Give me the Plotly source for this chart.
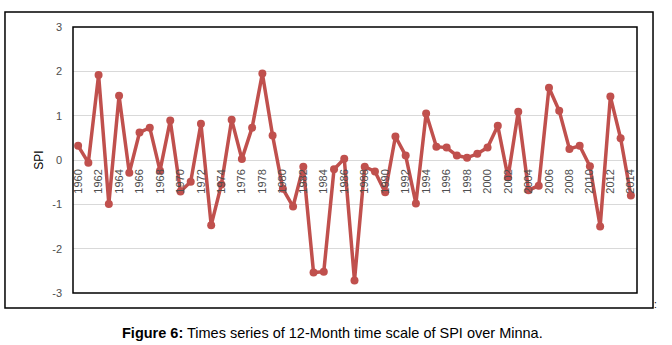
import plotly.graph_objects as go

# SPI values, 12-month time scale, Minna
years = list(range(1960, 2015))
spi = [0.32, -0.06, 1.92, -0.99, 1.45, -0.29, 0.62, 0.73, -0.24, 0.89,
       -0.71, -0.49, 0.82, -1.47, -0.55, 0.91, 0.02, 0.73, 1.95, 0.55,
       -0.65, -1.05, -0.15, -2.54, -2.52, -0.21, 0.03, -2.72, -0.15, -0.26,
       -0.73, 0.53, 0.10, -0.98, 1.05, 0.30, 0.28, 0.10, 0.05, 0.14,
       0.28, 0.77, -0.39, 1.09, -0.68, -0.58, 1.63, 1.11, 0.25, 0.32,
       -0.14, -1.50, 1.43, 0.49, -0.80]
year_ticks = list(range(1960, 2015, 2))
spi_ticks = [-3, -2, -1, 0, 1, 2, 3]
spi_labels = ["-3", "-2", "-1", "0", "1", "2", "3"]

red = "#C0504D"

fig = go.Figure()
fig.add_trace(go.Scatter(x=years, y=spi, mode="lines+markers",
                         line=dict(color=red, width=3.5),
                         marker=dict(color=red, size=8, symbol="circle"),
                         showlegend=False))

fig.update_layout(
    width=672, height=345,
    margin=dict(l=73, r=35, t=27, b=52, autoexpand=False),
    paper_bgcolor="white", plot_bgcolor="white",
    font=dict(family="Liberation Sans", size=11, color="#4d4d4d"),
    xaxis=dict(range=[1959.5, 2014.6], tickvals=year_ticks,
               ticktext=[str(y) for y in year_ticks], tickangle=-90,
               anchor="free", position=0.5, showgrid=False, zeroline=False,
               showline=False, ticks="", ticklabelstandoff=6,
               automargin=False),
    yaxis=dict(range=[-3, 3], tickvals=spi_ticks, ticktext=spi_labels,
               showgrid=True, gridcolor="#D9D9D9", gridwidth=1,
               zeroline=False, ticks="", ticklabelstandoff=10,
               automargin=False,
               title=dict(text="SPI", standoff=6,
                          font=dict(size=12, color="black"))),
)

# inner plot border and outer chart border
fig.add_shape(type="rect", xref="paper", yref="paper", x0=0, x1=1, y0=0, y1=1,
              line=dict(color="black", width=1.5))
fig.add_shape(type="rect", xref="paper", yref="paper",
              x0=-0.1206, x1=1.0284, y0=-0.0564, y1=1.0564,
              line=dict(color="black", width=1.5))

# caption
fig.add_annotation(xref="paper", yref="paper", x=0.46, y=-0.152,
                   text="<b>Figure 6:</b> Times series of 12-Month time scale of SPI over Minna.",
                   showarrow=False, xanchor="center", yanchor="middle",
                   font=dict(family="Liberation Sans", size=14.5, color="black"))
fig.add_annotation(xref="paper", yref="paper", x=1.027, y=-0.045,
                   text=":", showarrow=False, xanchor="left", yanchor="middle",
                   font=dict(family="Liberation Sans", size=10, color="black"))

# drop the default page margin so the figure sits at the window corner
fig.write_html("out.html", config={"displayModeBar": False},
               post_script="document.body.style.margin='0';")
